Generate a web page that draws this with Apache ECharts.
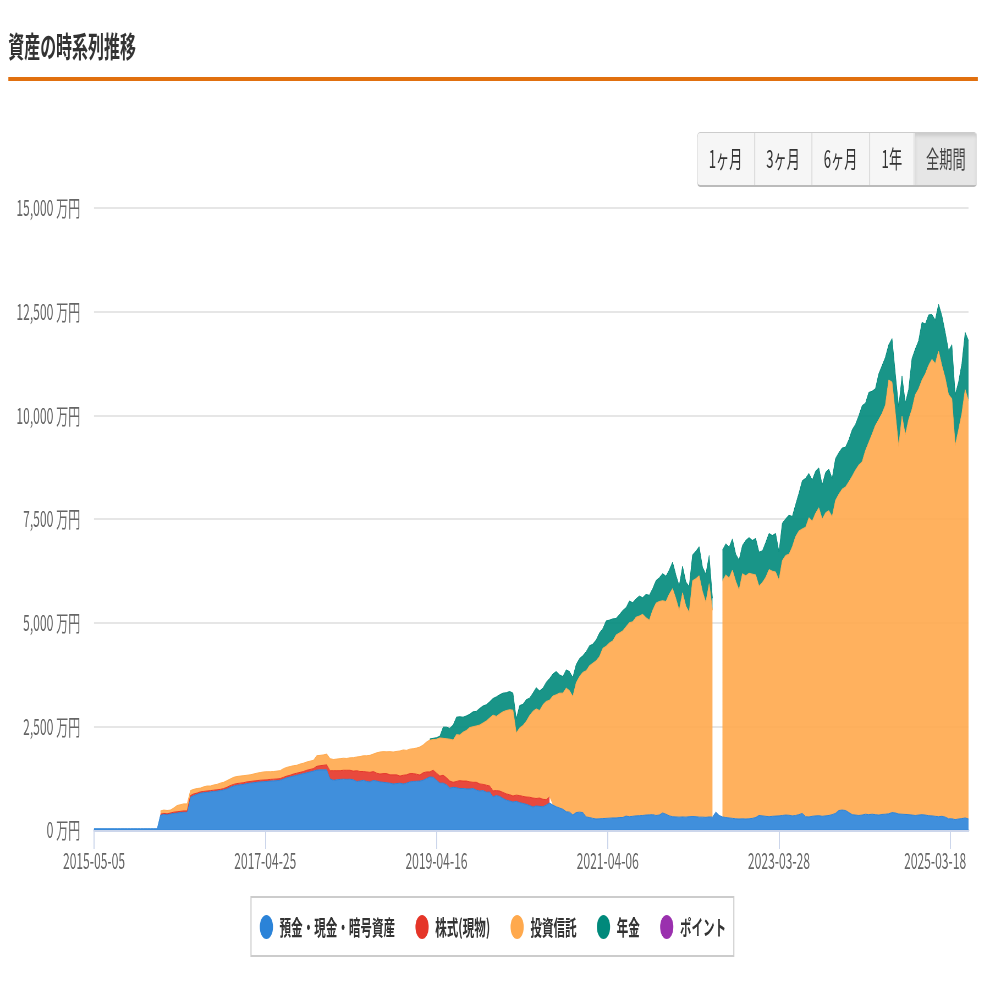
<!DOCTYPE html>
<html>
<head>
    <meta charset="UTF-8">
    <title>資産の時系列推移</title>
    <script src="https://cdn.jsdelivr.net/npm/echarts/dist/echarts.min.js"></script>
    <style>
        html, body { margin: 0; background: #fff; overflow: hidden; }
        /* the whole page is squeezed horizontally, text and legend dots too */
        #stage {
            position: absolute; left: 0; top: 0;
            width: 1789px; height: 984px;
            transform: scaleX(0.55); transform-origin: 0 0;
            font-family: "Noto Sans CJK JP", sans-serif;
        }
        #main { position: absolute; left: 0; top: 0; width: 1789px; height: 984px; }
        #heading {
            position: absolute; left: 15px; top: 24px;
            font-size: 29px; line-height: 42px; font-weight: bold; color: #333;
        }
        #rule { position: absolute; left: 15px; top: 77px; width: 1763px; height: 4px; background: #e1700f; }
        #ranges {
            position: absolute; left: 1267px; top: 132px; width: 510px; height: 55px;
            display: flex; box-sizing: border-box;
            border: 1px solid #ccc; border-bottom: 2px solid #bbb; border-radius: 6px;
            background: #f6f6f6; overflow: hidden; z-index: 2;
        }
        #ranges div {
            text-align: center; font-size: 24px; line-height: 50px; color: #333;
            border-right: 2px solid #ddd; box-sizing: border-box;
        }
        #ranges div.on { background: #e6e6e6; color: #444; border-right: 0; box-shadow: inset 0 3px 5px #ccc; }
    </style>
</head>
<body>
<div id="stage">
    <div id="main"></div>
    <div id="heading">資産の時系列推移</div>
    <div id="rule"></div>
    <div id="ranges"></div>
</div>

<script>
    const _ = null;
    const SX = 0.55;  // horizontal squeeze of #stage

    const rangeLabels = ['1ヶ月', '3ヶ月', '6ヶ月', '1年', '全期間'];
    const rangeWidths = [105, 105, 105, 82, 113];
    const tickLabels = ['2015-05-05', '2017-04-25', '2019-04-16', '2021-04-06', '2023-03-28', '2025-03-18'];
    const seriesNames = ['預金・現金・暗号資産', '株式(現物)', '投資信託', '年金', 'ポイント'];
    const seriesColors = ['#2b83d8', '#e53528', '#ffa94d', '#00897b', '#9a30ae'];

    // 万円, one sample every 14 days from 2015-05-05
    const blue = [
        30,30,30,30,30,30,30,30,30,30,30,30,30,30,30,30,30,30,30,30,
        360,380,370,390,400,410,420,430,430,
        790,830,860,890,900,910,920,930,940,950,970,990,1030,1060,1080,1090,1100,1120,1130,1140,1150,
        1160,1165,1170,1180,1185,1190,1200,1230,1260,1280,1300,1320,1340,1360,1380,1400,1420,1445,1450,1450,1450,
        1230,1200,1210,1220,1225,1220,1225,1210,1170,1180,1200,1170,1160,1195,1180,1160,1150,1140,1130,1110,
        1120,1130,1110,1130,1160,1170,1175,1180,1200,1240,1280,1270,1200,1130,
        1130,1090,1010,1030,1020,1000,1000,990,990,1000,960,940,950,910,915,800,830,810,760,720,
        700,675,690,660,640,620,590,555,580,570,560,600,650,
        600,560,530,500,440,430,360,420,430,420,315,300,280,265,270,275,280,285,290,290,
        300,300,335,320,330,340,345,350,360,365,370,350,360,410,380,340,320,315,310,315,
        310,320,325,320,310,310,305,315,310,
        430,350,315,300,290,280,270,265,270,265,270,280,300,350,340,330,320,330,335,340,
        350,360,355,340,350,370,400,320,315,330,340,345,330,340,350,370,400,470,480,470,
        420,370,360,350,360,
        380,370,380,370,360,375,380,390,420,410,385,380,375,370,360,350,
        360,370,360,345,340,330,320,330,310,270,270,250,265,275,290,265
    ];
    const red = [
        _,_,_,_,_,_,_,_,_,_,_,_,_,_,_,_,_,_,_,_,
        20,20,20,20,30,30,30,30,30,
        40,40,30,30,30,30,30,30,30,30,30,40,40,40,40,40,40,40,40,40,40,
        40,40,40,40,40,40,40,40,40,40,50,50,50,50,60,60,60,90,100,110,120,
        200,230,220,210,215,220,215,210,260,230,210,230,230,215,190,190,210,220,200,220,
        210,170,210,200,200,190,170,145,180,160,120,170,170,170,
        190,170,170,120,150,190,180,190,170,150,190,170,150,170,145,145,120,130,145,150,
        150,145,150,170,170,175,200,215,180,200,180,130,145
    ];
    const fund = [
        _,_,_,_,_,_,_,_,_,_,_,_,_,_,_,_,_,_,_,_,
        80,80,80,70,100,150,160,170,170,
        120,110,110,90,110,120,110,125,130,150,150,160,160,170,170,170,170,160,160,170,
        180,185,195,195,185,185,190,190,210,210,210,200,190,200,200,200,200,200,255,250,250,260,
        290,270,280,290,290,285,300,325,330,360,380,390,410,420,490,530,530,525,560,550,
        565,605,610,590,590,600,630,675,670,720,770,740,820,920,
        890,940,1010,1020,1130,1100,1180,1220,1310,1340,1360,1420,1480,1550,1640,1825,1790,1860,1945,2010,
        2050,2070,1500,1630,1710,1825,1970,2090,2160,2110,2280,2370,2335,
        2630,2700,2770,2800,2980,2930,2860,3130,3270,3380,3525,3660,3740,3815,3910,4105,4150,4225,4270,4410,
        4450,4500,4565,4680,4690,4790,4815,4850,4760,4695,4930,5120,5150,5120,5130,5350,5500,5265,4990,5405,
        5090,4930,5685,5740,5820,5440,5185,5625,4990,
        _,_,
        5695,5850,5790,5990,5730,5525,5910,5865,5920,5890,5850,5530,5630,5760,5960,5910,5885,5690,6150,6260,
        6295,6490,6730,6840,6860,6980,7215,7120,7300,7425,7170,7310,7350,7190,7550,7630,7740,7800,7980,8160,
        8320,8450,8520,
        8770,8980,9170,9390,9540,9675,9870,10460,10380,9640,8865,9600,9155,9530,9790,10150,
        10280,10480,10640,10865,11010,10920,11230,10870,10590,10230,10130,9020,9385,9775,10330,10085
    ];
    const pension = [
        _,_,_,_,_,_,_,_,_,_,_,_,_,_,_,_,_,_,_,_,
        _,_,_,_,_,_,_,_,_,
        _,_,_,_,_,_,_,_,_,_,_,_,_,_,_,_,_,_,_,_,
        _,_,_,_,_,_,_,_,_,_,_,_,_,_,_,_,_,_,_,_,_,_,
        _,_,_,_,_,_,_,_,_,_,_,_,_,_,_,_,_,_,_,_,
        _,_,_,_,_,_,_,_,_,_,25,30,35,40,
        270,280,260,360,420,440,360,350,320,360,350,400,410,390,390,400,470,460,450,430,
        440,410,340,540,510,520,420,440,510,470,400,460,520,
        530,560,440,400,440,460,460,440,430,400,460,480,460,500,570,470,610,550,530,400,
        440,490,460,520,460,440,480,400,560,600,520,540,570,650,610,580,640,570,590,640,
        580,620,620,660,700,590,680,680,290,
        _,_,
        740,750,740,750,650,720,680,850,860,810,880,820,760,840,870,860,930,680,900,880,
        940,730,770,910,1160,1180,1070,990,1010,960,820,970,1000,920,1010,1000,990,960,1010,1120,
        1100,1190,1350,
        1140,1200,1030,880,1100,1150,1150,850,1050,950,950,970,770,720,1220,1100,
        1160,1390,1200,1210,1080,1050,1130,1200,1100,1060,1300,1230,1150,1200,1380,1450
    ];
    const points = [];

    const startTime = Date.UTC(2015, 4, 5);
    const stepTime = 14 * 24 * 3600 * 1000;
    const sampleTimes = blue.map((v, i) => startTime + i * stepTime);
    const sampleDates = sampleTimes.map(t => new Date(t).toISOString().slice(0, 10));

    // range buttons
    const ranges = document.getElementById('ranges');
    rangeLabels.forEach((label, i) => {
        const el = document.createElement('div');
        el.textContent = label;
        el.style.width = rangeWidths[i] + 'px';
        if (i === rangeLabels.length - 1) el.className = 'on';
        ranges.appendChild(el);
    });

    const chart = echarts.init(document.getElementById('main'));
    const font = '"Noto Sans CJK JP", sans-serif';

    function makeSeries(idx, values) {
        return {
            name: seriesNames[idx],
            type: 'line',
            stack: 'assets',
            xAxisIndex: 0,
            showSymbol: false,
            sampling: 'none',
            connectNulls: false,
            color: seriesColors[idx],
            lineStyle: { width: 1 },
            areaStyle: { opacity: 0.9 },
            data: values
        };
    }

    chart.setOption({
        animation: false,
        textStyle: { fontFamily: font },
        grid: { left: 94 / SX, width: 874.5 / SX, top: 208, height: 622, containLabel: false },
        legend: {
            left: 251 / SX,
            top: 897,
            icon: 'circle',
            itemWidth: 24,
            itemHeight: 24,
            itemGap: 37,
            padding: [18, 14, 17, 16],
            borderColor: '#ccc',
            borderWidth: 2,
            selectedMode: false,
            formatter: name => '{t|' + name + '}',
            textStyle: {
                rich: {
                    t: { fontSize: 21, fontWeight: 'bold', color: '#333', fontFamily: font, padding: [0, 0, 0, 7] }
                }
            },
            data: seriesNames
        },
        xAxis: [
            // carries the samples
            { type: 'category', show: false, boundaryGap: false, data: sampleDates },
            // carries the dated ticks, which fall between samples
            {
                type: 'value',
                position: 'bottom',
                min: startTime,
                max: sampleTimes[sampleTimes.length - 1],
                splitLine: { show: false },
                axisLine: { show: true, lineStyle: { color: '#ccd6eb', width: 3 } },
                axisTick: {
                    show: true,
                    length: 19,
                    lineStyle: { color: '#ccd6eb', width: 2 },
                    customValues: tickLabels.map(d => Date.parse(d))
                },
                axisLabel: {
                    customValues: tickLabels.map(d => Date.parse(d)),
                    margin: 20,
                    fontSize: 22,
                    color: '#666',
                    hideOverlap: false,
                    formatter: function (value) {
                        const text = new Date(value).toISOString().slice(0, 10);
                        // last label sits left of its tick so it stays inside the plot
                        return text === tickLabels[tickLabels.length - 1] ? '{last|' + text + '}' : text;
                    },
                    rich: { last: { fontSize: 22, color: '#666', padding: [0, 55, 0, 0] } }
                }
            }
        ],
        yAxis: {
            type: 'value',
            min: 0,
            max: 15000,
            interval: 2500,
            axisLine: { show: false },
            axisTick: { show: false },
            splitLine: { lineStyle: { color: '#e6e6e6', width: 2 } },
            axisLabel: {
                margin: 25,
                fontSize: 22,
                color: '#666',
                formatter: v => v.toLocaleString('en-US') + ' 万円'
            }
        },
        series: [
            makeSeries(0, blue),
            makeSeries(1, red),
            makeSeries(2, fund),
            makeSeries(3, pension),
            makeSeries(4, points)
        ]
    });
</script>
</body>
</html>
